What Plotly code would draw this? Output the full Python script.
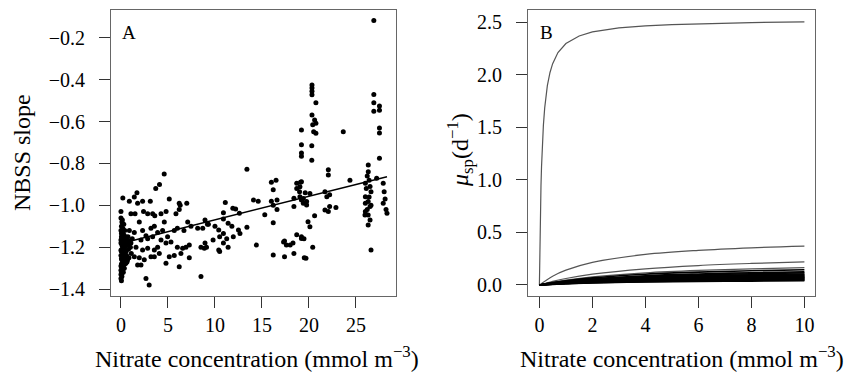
import plotly.graph_objects as go

# ---------------- Panel A data ----------------
nitrate_cluster = [0.0,0.1,0.05,0.2,0.0,0.15,0.3,0.05,0.1,0.25,0.0,0.2,0.4,0.1,0.05,0.3,0.0,0.15,0.1,0.2,0.05,0.0,0.1,0.0,0.05,0.0,0.1,0.0,0.05,
                   0.3,0.4,0.5,0.6,0.45,0.35,0.55,0.7,0.8,0.6,0.5,0.4,0.3,0.25,0.2,0.25,0.35,0.45,0.65,0.75,
                   0.9,1.0,1.1,0.85,1.2,0.15,0.3,0.2,0.4,0.1,0.0,0.05,0.15,0.1,0.2,0.3,0.0,0.05,0.2,0.0]
slope_cluster = [-1.06,-1.08,-1.10,-1.11,-1.12,-1.13,-1.14,-1.15,-1.16,-1.17,-1.18,-1.19,-1.20,-1.21,-1.22,-1.23,-1.24,-1.25,-1.26,-1.27,-1.28,-1.29,-1.30,-1.31,-1.32,-1.33,-1.34,-1.35,-1.36,
                 -1.09,-1.12,-1.15,-1.17,-1.18,-1.21,-1.22,-1.19,-1.21,-1.24,-1.26,-1.28,-1.30,-1.32,-1.14,-1.24,-1.26,-1.24,-1.27,-1.15,
                 -1.17,-1.20,-1.23,-1.25,-1.16,-1.07,-1.17,-1.22,-1.16,-1.19,-1.215,-1.255,-1.295,-1.325,-1.20,-1.27,-1.165,-1.135,-0.965,-1.03]

nitrate_low = [4.6,3.7,4.1,0.89,1.42,1.7,1.77,2.3,3.12,5.14,
               6.2,6.3,7.0,6.2,5.85,1.06,1.5,2.4,2.84,3.37,
               3.6,4.26,4.8,1.95,3.19,3.55,4.61,5.67,7.1,7.45,
               8.16,9.2,8.7,0.89,1.42,2.3,2.66,3.9,4.43,6.0,
               6.7,2.13,2.84,3.37,4.26,4.96,1.06,1.6,2.3,2.84,
               3.55,3.9,4.79,5.32,6.0,6.56,6.91,7.27,8.51,8.87,
               1.42,1.95,2.48,3.19,3.55,4.08,5.14,5.67,6.38,7.27,
               1.77,2.13,4.79,6.2,8.51,2.66,3.0,0.35,0.53,0.7]
slope_low = [-0.85,-0.92,-0.90,-0.98,-0.96,-0.94,-0.99,-0.98,-0.98,-0.97,
             -0.99,-1.0,-0.99,-1.02,-1.04,-1.04,-1.04,-1.03,-1.04,-1.04,
             -1.05,-1.04,-1.03,-1.08,-1.11,-1.10,-1.08,-1.12,-1.08,-1.10,
             -1.11,-1.09,-1.11,-1.12,-1.13,-1.12,-1.145,-1.13,-1.12,-1.11,
             -1.12,-1.166,-1.16,-1.15,-1.166,-1.15,-1.18,-1.2,-1.213,-1.205,
             -1.213,-1.2,-1.18,-1.175,-1.2,-1.205,-1.2,-1.19,-1.2,-1.205,
             -1.245,-1.25,-1.26,-1.245,-1.245,-1.23,-1.245,-1.24,-1.23,-1.25,
             -1.285,-1.285,-1.277,-1.293,-1.34,-1.35,-1.381,-1.30,-1.277,-1.26]

nitrate_mid = [19.2,19.2,19.2,19.2,13.4,16.0,16.5,16.2,18.7,19.1,
               18.7,19.0,14.1,14.6,16.0,16.6,18.4,19.2,11.1,10.9,
               11.9,12.2,12.6,15.3,16.2,16.6,18.4,8.94,9.3,10.0,
               10.4,10.9,11.4,11.8,12.5,13.4,16.2,8.94,9.1,9.8,
               10.5,10.9,10.9,11.25,11.4,11.95,12.66,14.4,17.3,17.6,
               18.3,18.7,19.2,10.4,10.5,16.2,17.4,18.4,19.5,17.4,
               18.0]
slope_mid = [-0.64,-0.711,-0.75,-0.765,-0.828,-0.89,-0.88,-0.925,-0.895,-0.89,
             -0.92,-0.935,-0.974,-0.98,-0.98,-0.974,-0.966,-0.974,-0.986,-1.035,
             -1.014,-1.017,-1.038,-1.045,-1.0,-1.02,-1.005,-1.07,-1.09,-1.1,
             -1.118,-1.065,-1.086,-1.1,-1.118,-1.105,-1.083,-1.18,-1.2,-1.165,
             -1.15,-1.135,-1.18,-1.16,-1.2,-1.15,-1.135,-1.19,-1.175,-1.19,
             -1.18,-1.14,-1.15,-1.213,-1.22,-1.237,-1.245,-1.23,-1.25,-1.17,
             -1.19]

nitrate_high = [26.9,20.32,20.32,20.32,20.32,20.74,20.32,20.6,20.74,20.4,
                20.5,20.74,23.65,20.3,20.3,26.9,26.9,26.9,27.5,27.5,
                27.5,27.5,27.5,22.06,22.06,24.36,26.31,26.31,26.4,26.5,
                26.0,26.6,26.0,26.3,26.5,26.0,26.0,26.3,26.5,25.96,
                26.3,27.2,27.9,28.0,27.9,28.2,28.3,26.6,19.2,19.04,
                19.6,19.04,19.4,19.75,20.1,19.4,19.75,21.7,21.9,22.2,
                21.7,22.2,22.06,22.87,20.6,19.9,20.1,19.2,19.47,20.4,
                19.68,26.2,26.4,26.1,26.6,26.2,28.1]
slope_high = [-0.117,-0.425,-0.44,-0.455,-0.472,-0.51,-0.568,-0.592,-0.608,-0.615,
              -0.648,-0.656,-0.648,-0.715,-0.785,-0.47,-0.51,-0.55,-0.525,-0.546,
              -0.63,-0.655,-0.775,-0.83,-0.855,-0.88,-0.807,-0.839,-0.88,-0.91,
              -0.895,-0.935,-0.959,-0.982,-1.006,-0.99,-1.03,-1.046,-1.07,-1.046,
              -1.094,-0.871,-0.895,-0.935,-0.99,-1.02,-1.038,-1.213,-0.887,-0.911,
              -0.94,-0.959,-0.967,-0.982,-0.943,-0.99,-0.998,-0.935,-0.959,-0.95,
              -1.022,-1.006,-1.03,-1.01,-1.05,-1.078,-1.102,-1.158,-1.16,-1.2,
              -1.253,-0.86,-0.96,-0.92,-1.0,-1.02,-0.97]

nitrate_a = nitrate_cluster + nitrate_low + nitrate_mid + nitrate_high
slope_a = slope_cluster + slope_low + slope_mid + slope_high

fit_x = [0.0, 28.3]
fit_y = [-1.182, -0.863]

# ---------------- Panel B data ----------------
n_top = [0, 0.01, 0.02, 0.04, 0.06, 0.08, 0.1, 0.15, 0.2, 0.3, 0.4, 0.5, 0.7, 1, 1.5, 2, 3, 4, 5, 6, 8, 10]
mu_top = [0, 0.23, 0.42, 0.723, 0.949, 1.124, 1.265, 1.518, 1.687, 1.898, 2.024, 2.108, 2.214, 2.30,
          2.372, 2.41, 2.448, 2.468, 2.48, 2.488, 2.499, 2.505]

n_grid = [0, 0.5, 1, 2, 4, 6, 8, 10]
mu_curves = [
    [0, 0.084, 0.141, 0.215, 0.291, 0.330, 0.354, 0.37],
    [0, 0.034, 0.062, 0.103, 0.154, 0.185, 0.205, 0.22],
    [0, 0.026, 0.046, 0.077, 0.116, 0.139, 0.154, 0.165],
    [0, 0.023, 0.041, 0.068, 0.102, 0.122, 0.135, 0.145],
    [0, 0.020, 0.035, 0.058, 0.088, 0.105, 0.117, 0.125],
    [0, 0.018, 0.032, 0.054, 0.081, 0.097, 0.107, 0.115],
    [0, 0.016, 0.029, 0.049, 0.074, 0.088, 0.098, 0.105],
    [0, 0.015, 0.027, 0.046, 0.069, 0.082, 0.091, 0.098],
    [0, 0.014, 0.026, 0.043, 0.064, 0.077, 0.086, 0.092],
    [0, 0.013, 0.024, 0.040, 0.060, 0.072, 0.080, 0.086],
    [0, 0.012, 0.022, 0.037, 0.056, 0.067, 0.075, 0.080],
    [0, 0.012, 0.021, 0.035, 0.053, 0.063, 0.070, 0.075],
    [0, 0.011, 0.020, 0.033, 0.049, 0.059, 0.065, 0.070],
    [0, 0.010, 0.018, 0.030, 0.046, 0.055, 0.061, 0.065],
    [0, 0.009, 0.017, 0.028, 0.042, 0.050, 0.056, 0.060],
    [0, 0.009, 0.015, 0.026, 0.039, 0.046, 0.051, 0.055],
    [0, 0.008, 0.014, 0.023, 0.035, 0.042, 0.047, 0.050],
    [0, 0.007, 0.013, 0.021, 0.032, 0.038, 0.042, 0.045],
    [0, 0.006, 0.011, 0.019, 0.028, 0.034, 0.037, 0.040],
]

ticks_a_x = [0, 5, 10, 15, 20, 25]
ticks_a_y = [-1.4, -1.2, -1.0, -0.8, -0.6, -0.4, -0.2]
ticks_b_x = [0, 2, 4, 6, 8, 10]
ticks_b_y = [0.0, 0.5, 1.0, 1.5, 2.0, 2.5]

FONT = "Liberation Serif"
W, H = 852, 383

fig = go.Figure()
fig.add_trace(go.Scatter(x=nitrate_a, y=slope_a, mode="markers",
                         marker=dict(color="black", size=5, line=dict(width=0)),
                         xaxis="x", yaxis="y", showlegend=False))
fig.add_trace(go.Scatter(x=fit_x, y=fit_y, mode="lines",
                         line=dict(color="black", width=1.5),
                         xaxis="x", yaxis="y", showlegend=False))

fig.add_trace(go.Scatter(x=n_top, y=mu_top, mode="lines",
                         line=dict(color="#555555", width=1.2),
                         xaxis="x2", yaxis="y2", showlegend=False))
for i, mu in enumerate(mu_curves):
    fig.add_trace(go.Scatter(x=n_grid, y=mu, mode="lines", line_shape="spline",
                             line=dict(color="#555555" if i < 3 else "#000000",
                                       width=1.2 if i < 3 else 1.6),
                             xaxis="x2", yaxis="y2", showlegend=False))

axis_common = dict(showline=True, mirror=True, linecolor="#666666", linewidth=1,
                   ticks="outside", ticklen=11, tickwidth=1, tickcolor="#333333",
                   showgrid=False, zeroline=False,
                   tickfont=dict(family=FONT, size=20, color="black"))

fig.update_layout(
    width=W, height=H,
    margin=dict(l=0, r=0, t=10, b=87),
    paper_bgcolor="white", plot_bgcolor="white",
    font=dict(family=FONT, color="black"),
    xaxis=dict(domain=[111 / W, 396 / W], range=[-1.06, 29.26], tickvals=ticks_a_x,
               anchor="y", **axis_common),
    yaxis=dict(domain=[0, 1], range=[-1.433, -0.067], tickvals=ticks_a_y, tickformat=".1f",
               anchor="x", ticklabelstandoff=10, **axis_common),
    xaxis2=dict(domain=[528 / W, 815 / W], range=[-0.43, 10.40], tickvals=ticks_b_x,
                anchor="y2", **axis_common),
    yaxis2=dict(domain=[0, 1], range=[-0.105, 2.619], tickvals=ticks_b_y, tickformat=".1f",
                anchor="x2", ticklabelstandoff=10, **axis_common),
)

title_font = dict(family=FONT, size=24, color="black")
ann = [
    dict(text="A", xref="x domain", yref="y domain", x=0.063, y=0.92, showarrow=False,
         xanchor="center", yanchor="middle", font=dict(family=FONT, size=19, color="black")),
    dict(text="B", xref="x2 domain", yref="y2 domain", x=0.063, y=0.92, showarrow=False,
         xanchor="center", yanchor="middle", font=dict(family=FONT, size=19, color="black")),
    dict(text="Nitrate concentration (mmol m<sup>−3</sup>)", xref="paper", yref="paper",
         x=257 / W, y=(296 - 357) / 286, showarrow=False, xanchor="center", yanchor="middle",
         font=title_font),
    dict(text="Nitrate concentration (mmol m<sup>−3</sup>)", xref="paper", yref="paper",
         x=682 / W, y=(296 - 357) / 286, showarrow=False, xanchor="center", yanchor="middle",
         font=title_font),
    dict(text="NBSS slope", xref="paper", yref="paper", x=22 / W, y=(296 - 153) / 286,
         textangle=-90, showarrow=False, xanchor="center", yanchor="middle", font=title_font),
    dict(text="<i>μ</i><sub>sp</sub>(d<sup>−1</sup>)", xref="paper", yref="paper",
         x=460 / W, y=(296 - 150) / 286, textangle=-90, showarrow=False,
         xanchor="center", yanchor="middle", font=title_font),
]
fig.update_layout(annotations=ann)

fig.write_html("out.html")
